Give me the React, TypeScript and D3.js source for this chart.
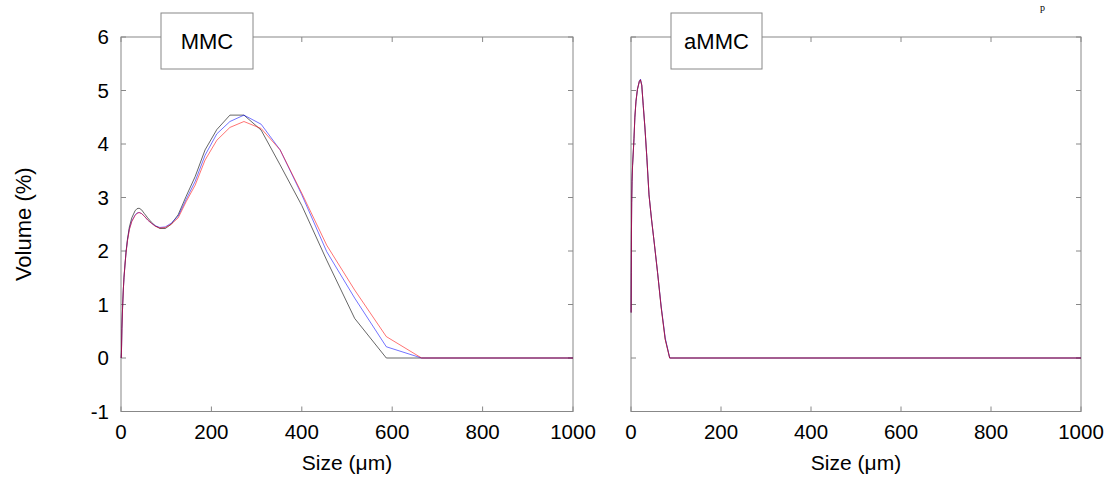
import React, { useRef, useEffect } from "react";
import * as d3 from "d3";

// particle size bins (um) and volume (%)
const mmcSize = [0.5, 1.0, 2.0, 3.5, 5.1, 6.6, 8.6, 11.1, 14.3, 18.5, 23.9, 31.0, 35.2, 40, 45.5, 51.7, 59, 67, 76, 86, 98, 111, 126.6, 144, 164, 186, 212, 241, 272, 310, 352, 400, 455, 517, 587, 665, 1000];
const mmcBlack = [0.0, 0.1, 0.55, 0.95, 1.27, 1.5, 1.72, 1.98, 2.22, 2.45, 2.62, 2.75, 2.79, 2.8, 2.77, 2.7, 2.62, 2.54, 2.47, 2.42, 2.42, 2.5, 2.68, 3.02, 3.39, 3.89, 4.27, 4.54, 4.54, 4.26, 3.61, 2.85, 1.83, 0.74, 0.0, 0.0, 0.0];
const mmcBlue = [0.0, 0.1, 0.55, 0.95, 1.27, 1.5, 1.72, 1.97, 2.2, 2.41, 2.56, 2.67, 2.71, 2.72, 2.7, 2.65, 2.58, 2.52, 2.47, 2.44, 2.45, 2.52, 2.65, 2.96, 3.3, 3.79, 4.19, 4.42, 4.54, 4.37, 3.89, 3.05, 1.99, 1.12, 0.21, 0.0, 0.0];
const mmcRed = [0.0, 0.1, 0.55, 0.95, 1.27, 1.5, 1.72, 1.96, 2.19, 2.4, 2.55, 2.66, 2.7, 2.72, 2.7, 2.65, 2.58, 2.52, 2.46, 2.43, 2.44, 2.5, 2.62, 2.92, 3.23, 3.7, 4.07, 4.31, 4.42, 4.29, 3.89, 3.08, 2.11, 1.27, 0.4, 0.0, 0.0];

const ammcSize = [0.3, 0.6, 1.0, 1.5, 2.3, 3.5, 5.1, 6.6, 8.6, 11.1, 14.3, 18.5, 21, 23.9, 27.2, 31, 35.2, 40, 45.5, 51.7, 59, 67, 76, 86, 1000];
const ammcBlack = [0.85, 1.6, 2.3, 2.9, 3.3, 3.6, 3.85, 4.1, 4.5, 4.8, 5.02, 5.17, 5.2, 5.1, 4.72, 4.3, 3.75, 3.05, 2.6, 2.15, 1.6, 0.95, 0.35, 0.0, 0.0];
const ammcBlue = [0.85, 1.6, 2.3, 2.9, 3.3, 3.6, 3.85, 4.1, 4.5, 4.8, 5.02, 5.17, 5.21, 5.1, 4.72, 4.3, 3.75, 3.05, 2.6, 2.15, 1.6, 0.97, 0.38, 0.0, 0.0];
const ammcRed = [0.85, 1.6, 2.3, 2.9, 3.3, 3.6, 3.85, 4.1, 4.5, 4.8, 5.02, 5.17, 5.2, 5.1, 4.72, 4.3, 3.75, 3.05, 2.6, 2.15, 1.6, 0.95, 0.35, 0.0, 0.0];

const xTicks = [0, 200, 400, 600, 800, 1000];
const yTicks = [-1, 0, 1, 2, 3, 4, 5, 6];
const panelNames = ["MMC", "aMMC"];

const FONT = "'Liberation Sans', Arial, sans-serif";

const App = () => {
  const ref = useRef(null);

  useEffect(() => {
    const svg = d3.select(ref.current);
    svg.selectAll("*").remove();

    const top = 37;
    const bottom = 411.5;
    const y = d3.scaleLinear().domain([-1, 6]).range([bottom, top]);

    const panels = [
      { name: panelNames[0], left: 121, right: 573, box: [161, 253], size: mmcSize, series: [mmcBlack, mmcBlue, mmcRed], yLabels: true },
      { name: panelNames[1], left: 631, right: 1081, box: [671, 762], size: ammcSize, series: [ammcBlack, ammcBlue, ammcRed], yLabels: false },
    ];
    const colors = ["rgba(0,0,0,0.6)", "rgba(0,0,255,0.55)", "rgba(255,0,0,0.55)"];

    panels.forEach((p) => {
      const x = d3.scaleLinear().domain([0, 1000]).range([p.left, p.right]);
      const g = svg.append("g");

      // frame
      g.append("rect")
        .attr("x", p.left)
        .attr("y", top)
        .attr("width", p.right - p.left)
        .attr("height", bottom - top)
        .attr("fill", "none")
        .attr("stroke", "#888")
        .attr("stroke-width", 1);

      // inward ticks
      xTicks.forEach((t) => {
        g.append("line").attr("x1", x(t)).attr("x2", x(t)).attr("y1", bottom).attr("y2", bottom - 5).attr("stroke", "#888");
        g.append("line").attr("x1", x(t)).attr("x2", x(t)).attr("y1", top).attr("y2", top + 5).attr("stroke", "#888");
      });
      yTicks.forEach((t) => {
        g.append("line").attr("x1", p.left).attr("x2", p.left + 5).attr("y1", y(t)).attr("y2", y(t)).attr("stroke", "#888");
        g.append("line").attr("x1", p.right).attr("x2", p.right - 5).attr("y1", y(t)).attr("y2", y(t)).attr("stroke", "#888");
      });

      g.selectAll(".xl")
        .data(xTicks)
        .enter()
        .append("text")
        .attr("x", (d) => x(d))
        .attr("y", 439)
        .attr("text-anchor", "middle")
        .attr("font-family", FONT)
        .attr("font-size", "20.5px")
        .text((d) => d);

      if (p.yLabels) {
        g.selectAll(".yl")
          .data(yTicks)
          .enter()
          .append("text")
          .attr("x", 109)
          .attr("y", (d) => y(d) + 7)
          .attr("text-anchor", "end")
          .attr("font-family", FONT)
          .attr("font-size", "20.5px")
          .text((d) => d);
      }

      const line = d3
        .line()
        .x((d) => x(d[0]))
        .y((d) => y(d[1]));

      p.series.forEach((vals, i) => {
        g.append("path")
          .datum(p.size.map((s, k) => [s, vals[k]]))
          .attr("d", line)
          .attr("fill", "none")
          .attr("stroke", colors[i])
          .attr("stroke-width", 1);
      });

      // name box
      g.append("rect")
        .attr("x", p.box[0])
        .attr("y", 13)
        .attr("width", p.box[1] - p.box[0])
        .attr("height", 56)
        .attr("fill", "white")
        .attr("stroke", "#888");
      g.append("text")
        .attr("x", (p.box[0] + p.box[1]) / 2)
        .attr("y", 49)
        .attr("text-anchor", "middle")
        .attr("font-family", FONT)
        .attr("font-size", "22px")
        .text(p.name);

      g.append("text")
        .attr("x", (p.left + p.right) / 2)
        .attr("y", 470)
        .attr("text-anchor", "middle")
        .attr("font-family", FONT)
        .attr("font-size", "21px")
        .text("Size (\u03bcm)");
    });

    svg.append("text")
      .attr("transform", `translate(31,${(top + bottom) / 2}) rotate(-90)`)
      .attr("text-anchor", "middle")
      .attr("font-family", FONT)
      .attr("font-size", "22px")
      .text("Volume (%)");

    // small glyph near the top edge
    svg.append("text")
      .attr("x", 1040)
      .attr("y", 11)
      .attr("font-family", "'Liberation Serif', serif")
      .attr("font-size", "10px")
      .text("p");
  }, []);

  return (
    <svg
      ref={ref}
      width={1108}
      height={477}
      style={{ position: "absolute", left: 0, top: 0, background: "white" }}
    />
  );
};

export default App;
